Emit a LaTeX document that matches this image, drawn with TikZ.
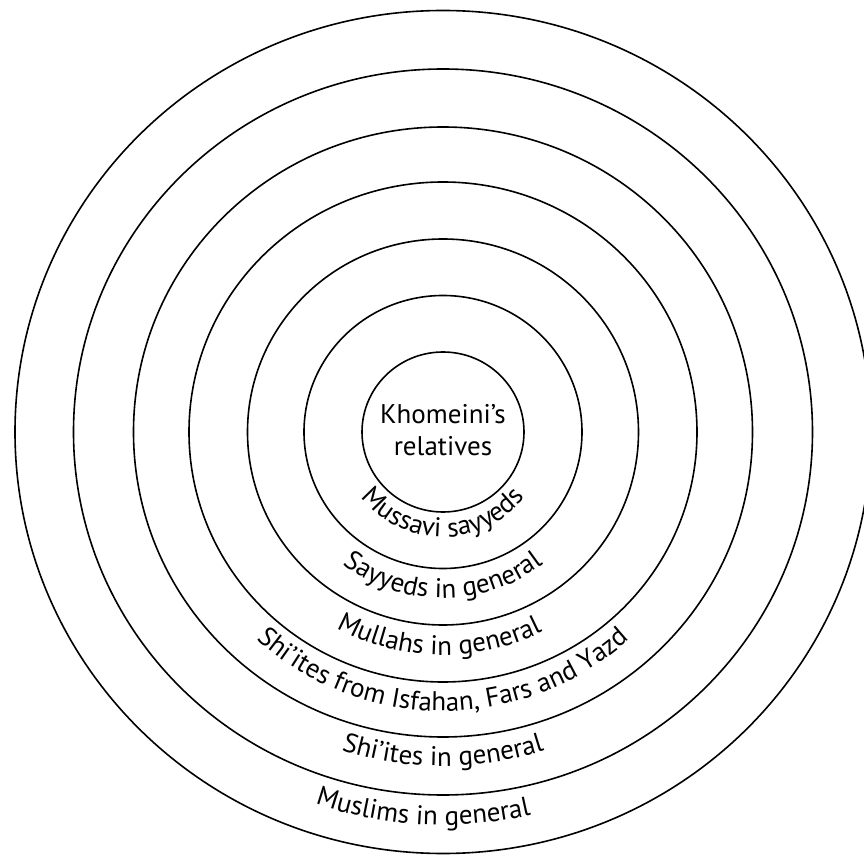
\documentclass[tikz,border=0pt]{standalone}
\usepackage{fontspec}
\setmainfont{PT Sans}
\usepackage{tikz}
\usetikzlibrary{decorations.text}

\newcommand{\ringfont}{\fontsize{27}{32}\selectfont}

\begin{document}
\begin{tikzpicture}[x=1pt, y=1pt,
    ring/.style={line width=1.6pt},
    ringtext/.style={decorate, decoration={text along path, text align=center,
        text format delimiters={|}{|}, text={|\ringfont|#1}}}]
    % page frame
    \useasboundingbox (-443,-424) rectangle (421,432);
    \clip (-443,-424) rectangle (421,432);

    % circles
    \foreach \rx/\ry in {81/80, 139/136.5, 195.5/193, 254/250, 309.5/305, 369.5/363, 428/421.5}
        \draw[ring] (0,0) ellipse[x radius=\rx, y radius=\ry];

    % centre
    \node[align=center, font=\ringfont] (khomeini) at (0,2) {Khomeini's\\relatives};

    % ring labels
    \path[ringtext={Mussavi sayyeds}] (190:105) arc[start angle=190, end angle=350, radius=105];
    \path[ringtext={Sayyeds in general}] (190:166) arc[start angle=190, end angle=350, radius=166];
    \path[ringtext={Mullahs in general}] (189:223) arc[start angle=189, end angle=349, radius=223];
    \path[ringtext={Shi'ites from Isfahan, Fars and Yazd}] (190:279) arc[start angle=190, end angle=350, radius=279];
    \path[ringtext={Shi'ites in general}] (190:334) arc[start angle=190, end angle=350, radius=334];
    \path[ringtext={Muslims in general}] (187:393) arc[start angle=187, end angle=347, radius=393];
\end{tikzpicture}
\end{document}
